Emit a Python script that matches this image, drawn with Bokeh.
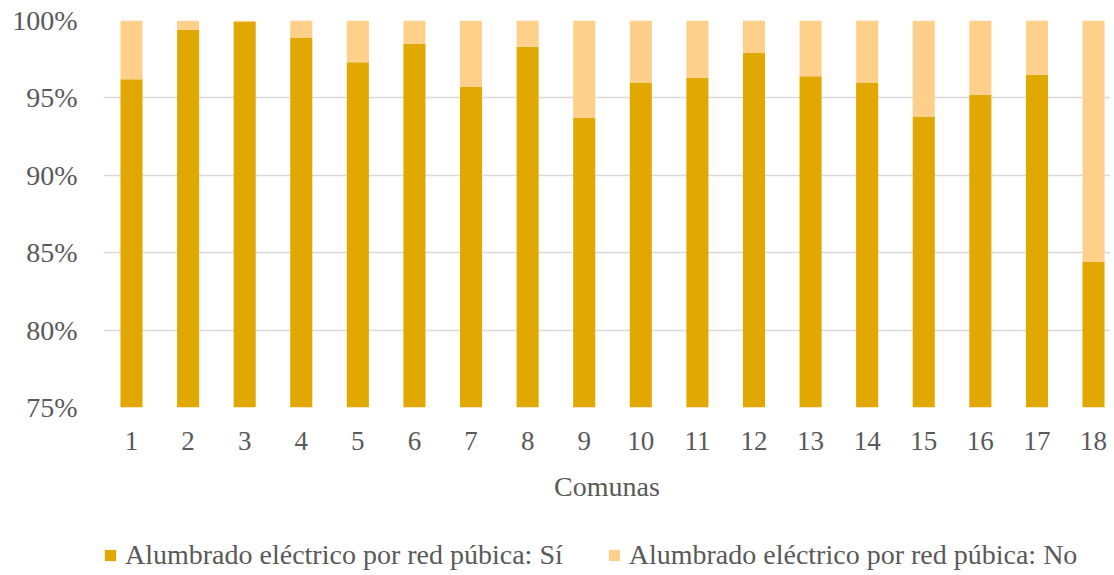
from bokeh.plotting import figure
from bokeh.layouts import column
from bokeh.models import ColumnDataSource, Range1d, FixedTicker, Legend, LegendItem
from bokeh.embed import file_html
from bokeh.resources import INLINE

comunas = ["1", "2", "3", "4", "5", "6", "7", "8", "9", "10",
           "11", "12", "13", "14", "15", "16", "17", "18"]
si = [96.2, 99.4, 99.9, 98.9, 97.3, 98.5, 95.7, 98.3, 93.7, 96.0,
      96.3, 97.9, 96.4, 96.0, 93.8, 95.2, 96.5, 84.4]
no = [3.8, 0.6, 0.1, 1.1, 2.7, 1.5, 4.3, 1.7, 6.3, 4.0,
      3.7, 2.1, 3.6, 4.0, 6.2, 4.8, 3.5, 15.6]
y_ticks = [75, 80, 85, 90, 95, 100]
y_tick_labels = ["75%", "80%", "85%", "90%", "95%", "100%"]
series_names = ["Alumbrado eléctrico por red púbica: Sí",
                "Alumbrado eléctrico por red púbica: No"]
colors = ["#E0A800", "#FFD08A"]

FONT = "Liberation Serif"
TXT = "#595959"

pos = list(range(1, len(comunas) + 1))
src = ColumnDataSource(dict(x=pos, si=si, no=no))

p = figure(width=1112, height=520, output_backend="svg", toolbar_location=None,
           x_range=Range1d(0.505, 18.3), y_range=Range1d(75, 100))
p.min_border_left = 103
p.min_border_right = 2
p.min_border_top = 20
p.min_border_bottom = 113
p.outline_line_color = None
p.background_fill_color = "white"
p.border_fill_color = "white"

r = p.vbar_stack(["si", "no"], x="x", width=0.39, source=src,
                 color=colors, line_color=None)

p.xgrid.grid_line_color = None
p.ygrid.grid_line_color = "#D9D9D9"
p.ygrid.grid_line_width = 1.5
p.ygrid.ticker = FixedTicker(ticks=y_ticks)

p.yaxis.ticker = FixedTicker(ticks=y_ticks)
p.yaxis.major_label_overrides = {t: l for t, l in zip(y_ticks, y_tick_labels)}
p.xaxis.ticker = FixedTicker(ticks=pos)
p.xaxis.major_label_overrides = {x: c for x, c in zip(pos, comunas)}

for ax in (p.xaxis[0], p.yaxis[0]):
    ax.axis_line_color = None
    ax.major_tick_line_color = None
    ax.minor_tick_line_color = None
    ax.major_tick_in = 0
    ax.major_tick_out = 0
    ax.minor_tick_in = 0
    ax.minor_tick_out = 0
    ax.major_label_text_font = FONT
    ax.major_label_text_color = TXT

p.yaxis.major_label_text_font_size = "28px"
p.xaxis.major_label_text_font_size = "27px"
p.yaxis.major_label_standoff = 26
p.xaxis.major_label_standoff = 24
p.xaxis.axis_label = "Comunas"
p.xaxis.axis_label_text_font = FONT
p.xaxis.axis_label_text_font_size = "28px"
p.xaxis.axis_label_text_font_style = "normal"
p.xaxis.axis_label_text_color = TXT
p.xaxis.axis_label_standoff = 18

# legend in its own strip below the chart (its renderers are hidden, only the legend shows)
leg = figure(width=1112, height=55, output_backend="svg", toolbar_location=None,
             x_range=Range1d(0.505, 18.3), y_range=Range1d(75, 100), min_border=0,
             x_axis_location=None, y_axis_location=None)
leg.grid.grid_line_color = None
leg.outline_line_color = None
lr = leg.vbar_stack(["si", "no"], x="x", width=0.39, source=src,
                    color=colors, line_color=None)
for rr in lr:
    rr.visible = False

legend = Legend(items=[LegendItem(label=series_names[i], renderers=[lr[i]]) for i in range(2)],
                orientation="horizontal", location=(0, 4))
legend.click_policy = "none"
legend.inactive_fill_alpha = 0
legend.label_text_font = FONT
legend.label_text_font_size = "28px"
legend.label_text_color = TXT
legend.glyph_width = 14
legend.glyph_height = 14
legend.spacing = 44
legend.label_standoff = 8
legend.border_line_color = None
legend.background_fill_alpha = 0
legend.margin = 0
legend.padding = 0
leg.add_layout(legend, "center")

layout = column(p, leg, spacing=0)
open("out.html", "w").write(file_html(layout, INLINE))
